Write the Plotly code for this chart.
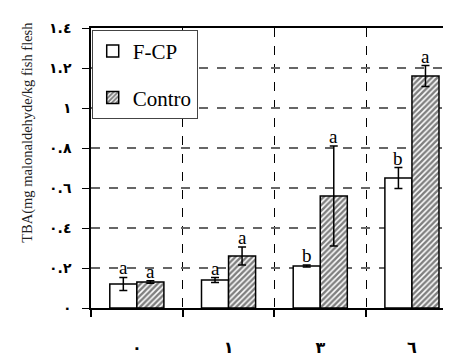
import plotly.graph_objects as go

categories = [0, 1, 2, 3]
x_labels = ["٠", "١", "٣", "٦"]
fcp = [0.12, 0.14, 0.21, 0.65]
fcp_err = [0.033, 0.012, 0.005, 0.052]
control = [0.13, 0.26, 0.56, 1.16]
control_err = [0.006, 0.045, 0.25, 0.052]
fcp_letters = ["a", "a", "b", "b"]
control_letters = ["a", "a", "a", "a"]
y_ticks = [0, 0.2, 0.4, 0.6, 0.8, 1.0, 1.2, 1.4]
y_tick_labels = ["٠", "٠.٢", "٠.٤", "٠.٦", "٠.٨", "١", "١.٢", "١.٤"]

SERIF = "Liberation Serif"

fig = go.Figure()
fig.add_trace(go.Bar(
    x=categories, y=fcp, name="F-CP", legendgroup="g1",
    marker=dict(color="white", line=dict(color="black", width=1.5)),
    error_y=dict(type="data", array=fcp_err, color="black", thickness=1.5, width=4),
))
fig.add_trace(go.Bar(
    x=categories, y=control, name="Contro", legendgroup="g2",
    marker=dict(color="white", line=dict(color="black", width=1.5),
                pattern=dict(shape="/", fgcolor="black", bgcolor="white", size=4, solidity=0.62)),
    error_y=dict(type="data", array=control_err, color="black", thickness=1.5, width=4),
))

off = 0.147
anns = []
for i, c in enumerate(categories):
    anns.append(dict(x=c - off, y=fcp[i] + fcp_err[i], text=fcp_letters[i], xref="x", yref="y",
                     showarrow=False, yanchor="bottom", yshift=-3,
                     font=dict(family=SERIF, size=19, color="black")))
    anns.append(dict(x=c + off, y=control[i] + control_err[i], text=control_letters[i], xref="x", yref="y",
                     showarrow=False, yanchor="bottom", yshift=-3,
                     font=dict(family=SERIF, size=19, color="black")))
anns.append(dict(x=-0.205, y=0.629, xref="paper", yref="paper", textangle=-90,
                 text="TBA(mg malonaldehyde/kg fish flesh", showarrow=False,
                 font=dict(family=SERIF, size=14.5, color="#222")))

fig.update_layout(
    width=443, height=352,
    margin=dict(l=83, r=1, t=20, b=52),
    paper_bgcolor="white", plot_bgcolor="white",
    barmode="group", bargap=0.41, bargroupgap=0,
    showlegend=True,
    legend=dict(x=0.002, y=0.993, xanchor="left", yanchor="top",
                bgcolor="white", bordercolor="#444", borderwidth=1,
                font=dict(family=SERIF, size=21, color="black"),
                itemwidth=30,
                tracegroupgap=16, traceorder="grouped"),
    annotations=anns,
)
fig.update_xaxes(
    range=[-0.5, 3.415], tickmode="array", tickvals=categories, ticktext=x_labels,
    ticks="", showgrid=False, zeroline=False, automargin=False,
    showline=True, linecolor="black", linewidth=1.5, mirror=True,
    ticklabelstandoff=24,
    tickfont=dict(family="DejaVu Sans", size=16, color="black", weight="bold"),
    minor=dict(tickvals=[-0.5, 0.5, 1.5, 2.5], ticks="outside", ticklen=7, tickcolor="black",
               tickwidth=1.5, showgrid=True, gridcolor="black", griddash="dash", gridwidth=1),
)
fig.update_yaxes(
    range=[0, 1.4], tickmode="array", tickvals=y_ticks, ticktext=y_tick_labels,
    ticks="outside", ticklen=7, tickcolor="black", tickwidth=1, automargin=False,
    showline=True, linecolor="black", linewidth=1.5, ticklabelstandoff=8,
    showgrid=True, gridcolor="#666", griddash="dash", gridwidth=1.5, zeroline=False,
    tickfont=dict(family="DejaVu Sans", size=14, color="black", weight="bold"),
)
fig.write_html("out.html")
